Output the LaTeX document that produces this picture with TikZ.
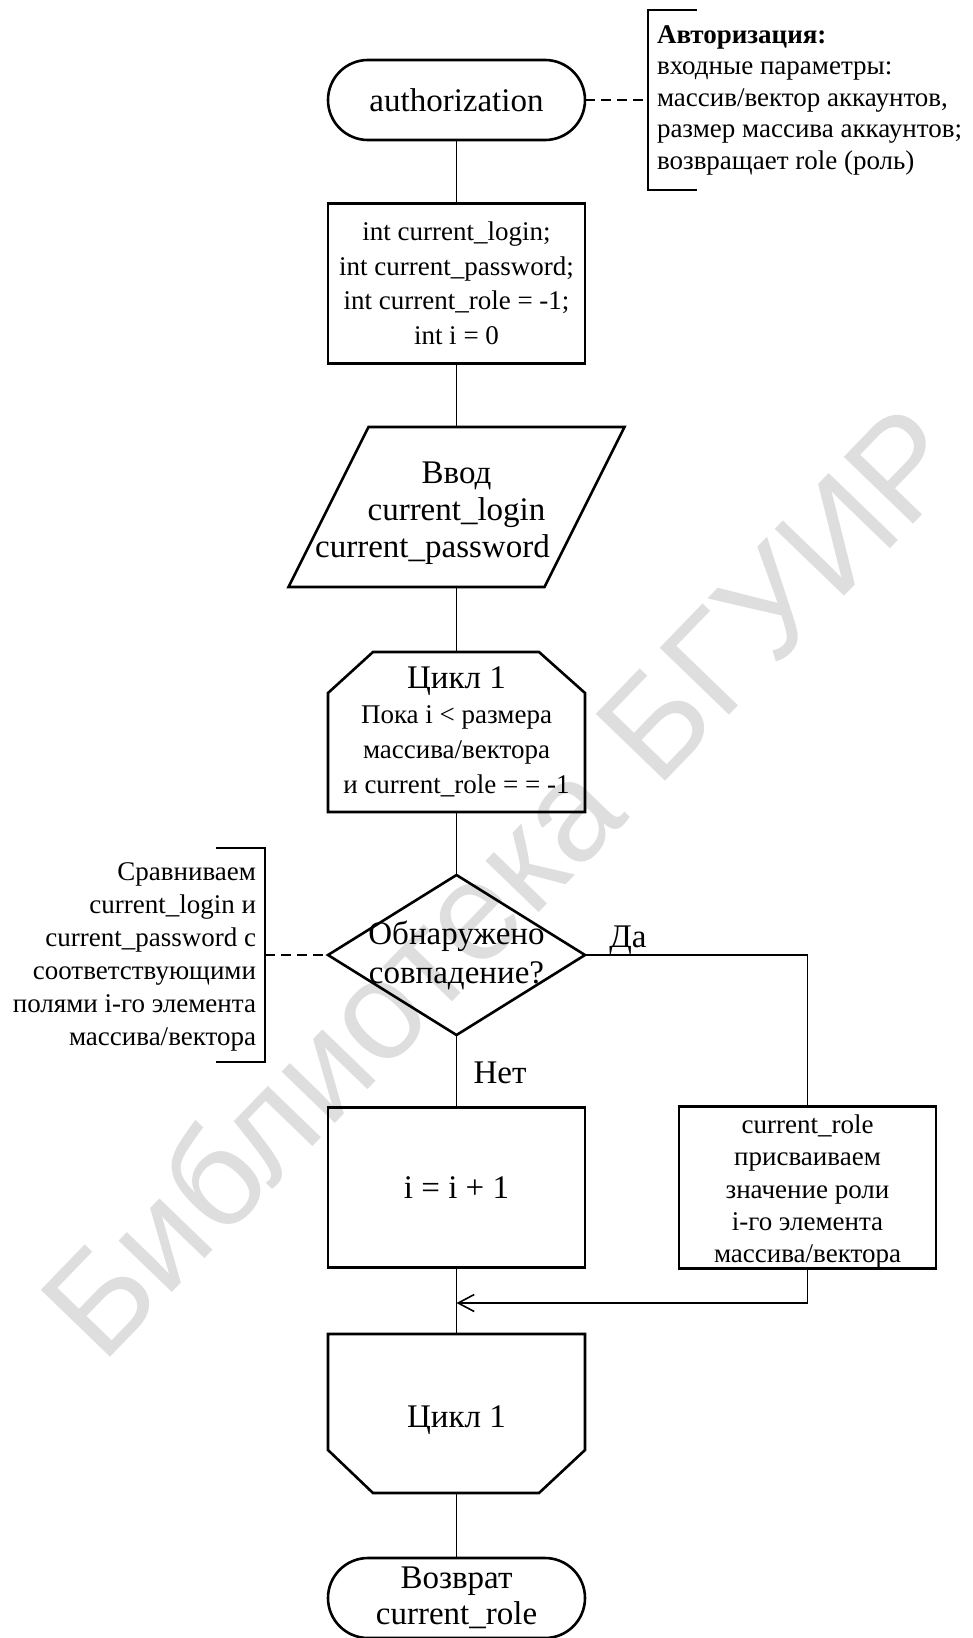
\documentclass[tikz,border=0pt]{standalone}
\usepackage{fontspec}
\setmainfont{Liberation Serif}
\newfontfamily\wmfont{Liberation Sans}
\usetikzlibrary{arrows.meta}

\begin{document}
\begin{tikzpicture}[x=1pt,y=-1pt,
  every node/.style={inner sep=0pt, outer sep=0pt},
  big/.style={font=\fontsize{33}{37}\selectfont},
  shapeline/.style={line width=2.6pt, line join=miter},
  flow/.style={line width=1.6pt},
  note/.style={line width=1.6pt, dash pattern=on 10pt off 6pt},
  bracket/.style={line width=2.6pt},
  procbox/.style={draw, shapeline, rectangle, minimum width=257pt, minimum height=160pt, align=center},
  plainbox/.style={rectangle, minimum width=257pt, minimum height=160pt, align=center},
  terminal/.style={draw, shapeline, rectangle, rounded corners=40pt, minimum width=257pt, minimum height=80pt, align=center, big},
]
\useasboundingbox (0,0) rectangle (972,1638);

% library stamp in the background
\node[rotate=46, text=black!13, font=\wmfont\fontsize{140}{140}\selectfont] (wm) at (500,880) {Библиотека БГУИР};

% main column
\node[terminal] (auth) at (456.5,100) {authorization};
\node[procbox, font=\fontsize{27}{34.5}\selectfont] (init) at (456.5,283.5)
  {int current\_login;\\ int current\_password;\\ int current\_role = -1;\\ int i = 0};

\node[plainbox, big] (input) at (456.5,507)
  {\rule{0pt}{34pt}Ввод\\ current\_login\\ current\_password\makebox[48pt]{}};
\draw[shapeline, shift={(input.center)}] (-88,-80) -- (168,-80) -- (88,80) -- (-168,80) -- cycle;

\node[plainbox, font=\fontsize{27}{35}\selectfont] (lstart) at (456.5,732)
  {{\fontsize{33}{35}\selectfont Цикл 1}\\ Пока i < размера\\ массива/вектора\\ и current\_role = = -1};
\draw[shapeline, shift={(lstart.center)}] (-128.5,-39) -- (-83.5,-80) -- (82.5,-80) -- (128.5,-39) -- (128.5,80) -- (-128.5,80) -- cycle;

\node[plainbox, font=\fontsize{33}{39}\selectfont] (dec) at (456.5,955) {Обнаружено\\ совпадение?};
\draw[shapeline] (dec.north) -- (dec.east) -- (dec.south) -- (dec.west) -- cycle;

\node[big, anchor=base] (yes) at (628,947) {Да};
\node[big, anchor=base] (no) at (500,1083) {Нет};

\node[procbox, big] (inc) at (456.5,1187.5) {i = i + 1};
\node[procbox, font=\fontsize{27}{32.3}\selectfont] (assign) at (807.5,1187.5)
  {\rule{0pt}{27pt}current\_role\\ присваиваем\\ значение роли\\ i-го элемента\\ массива/вектора};

\node[plainbox, big] (lend) at (456.5,1413.5) {\rule{0pt}{35pt}Цикл 1};
\draw[shapeline, shift={(lend.center)}] (-128.5,-79.5) -- (128.5,-79.5) -- (128.5,36.5) -- (82.5,79.5) -- (-83.5,79.5) -- (-128.5,36.5) -- cycle;

\node[terminal, font=\fontsize{33}{36}\selectfont] (ret) at (456.5,1598) {Возврат\\ current\_role};

% connectors
\coordinate (join) at (456.5,1303);
\draw[flow] (auth.south) -- (init.north);
\draw[flow] (init.south) -- (input.north);
\draw[flow] (input.south) -- (lstart.north);
\draw[flow] (lstart.south) -- (dec.north);
\draw[flow] (dec.south) -- (inc.north);
\draw[flow] (dec.east) -| (assign.north);
\draw[flow] (inc.south) -- (lend.north);
\draw[flow, -{Straight Barb[length=16pt, width=17pt, line width=1.6pt]}] (assign.south) |- (join);
\draw[flow] (lend.south) -- (ret.north);

% comment for the procedure
\coordinate (b1) at (648,100);
\draw[note] (auth.east) -- (b1);
\draw[bracket] (697,10) -- (648,10) -- (648,190) -- (697,190);
\node[anchor=west, align=left, font=\fontsize{27}{31.5}\selectfont] (n1) at (657,100)
  {\textbf{Авторизация:}\\ входные параметры:\\ массив/вектор аккаунтов,\\ размер массива аккаунтов;\\ возвращает role (роль)};

% comment for the comparison
\coordinate (b2) at (265,955);
\draw[note] (b2) -- (dec.west);
\draw[bracket] (216,848) -- (265,848) -- (265,1062) -- (216,1062);
\node[anchor=east, align=right, font=\fontsize{27}{33}\selectfont] (n2) at (256,957)
  {Сравниваем\\ current\_login и\\ current\_password с\\ соответствующими\\ полями i-го элемента\\ массива/вектора};
\end{tikzpicture}
\end{document}
